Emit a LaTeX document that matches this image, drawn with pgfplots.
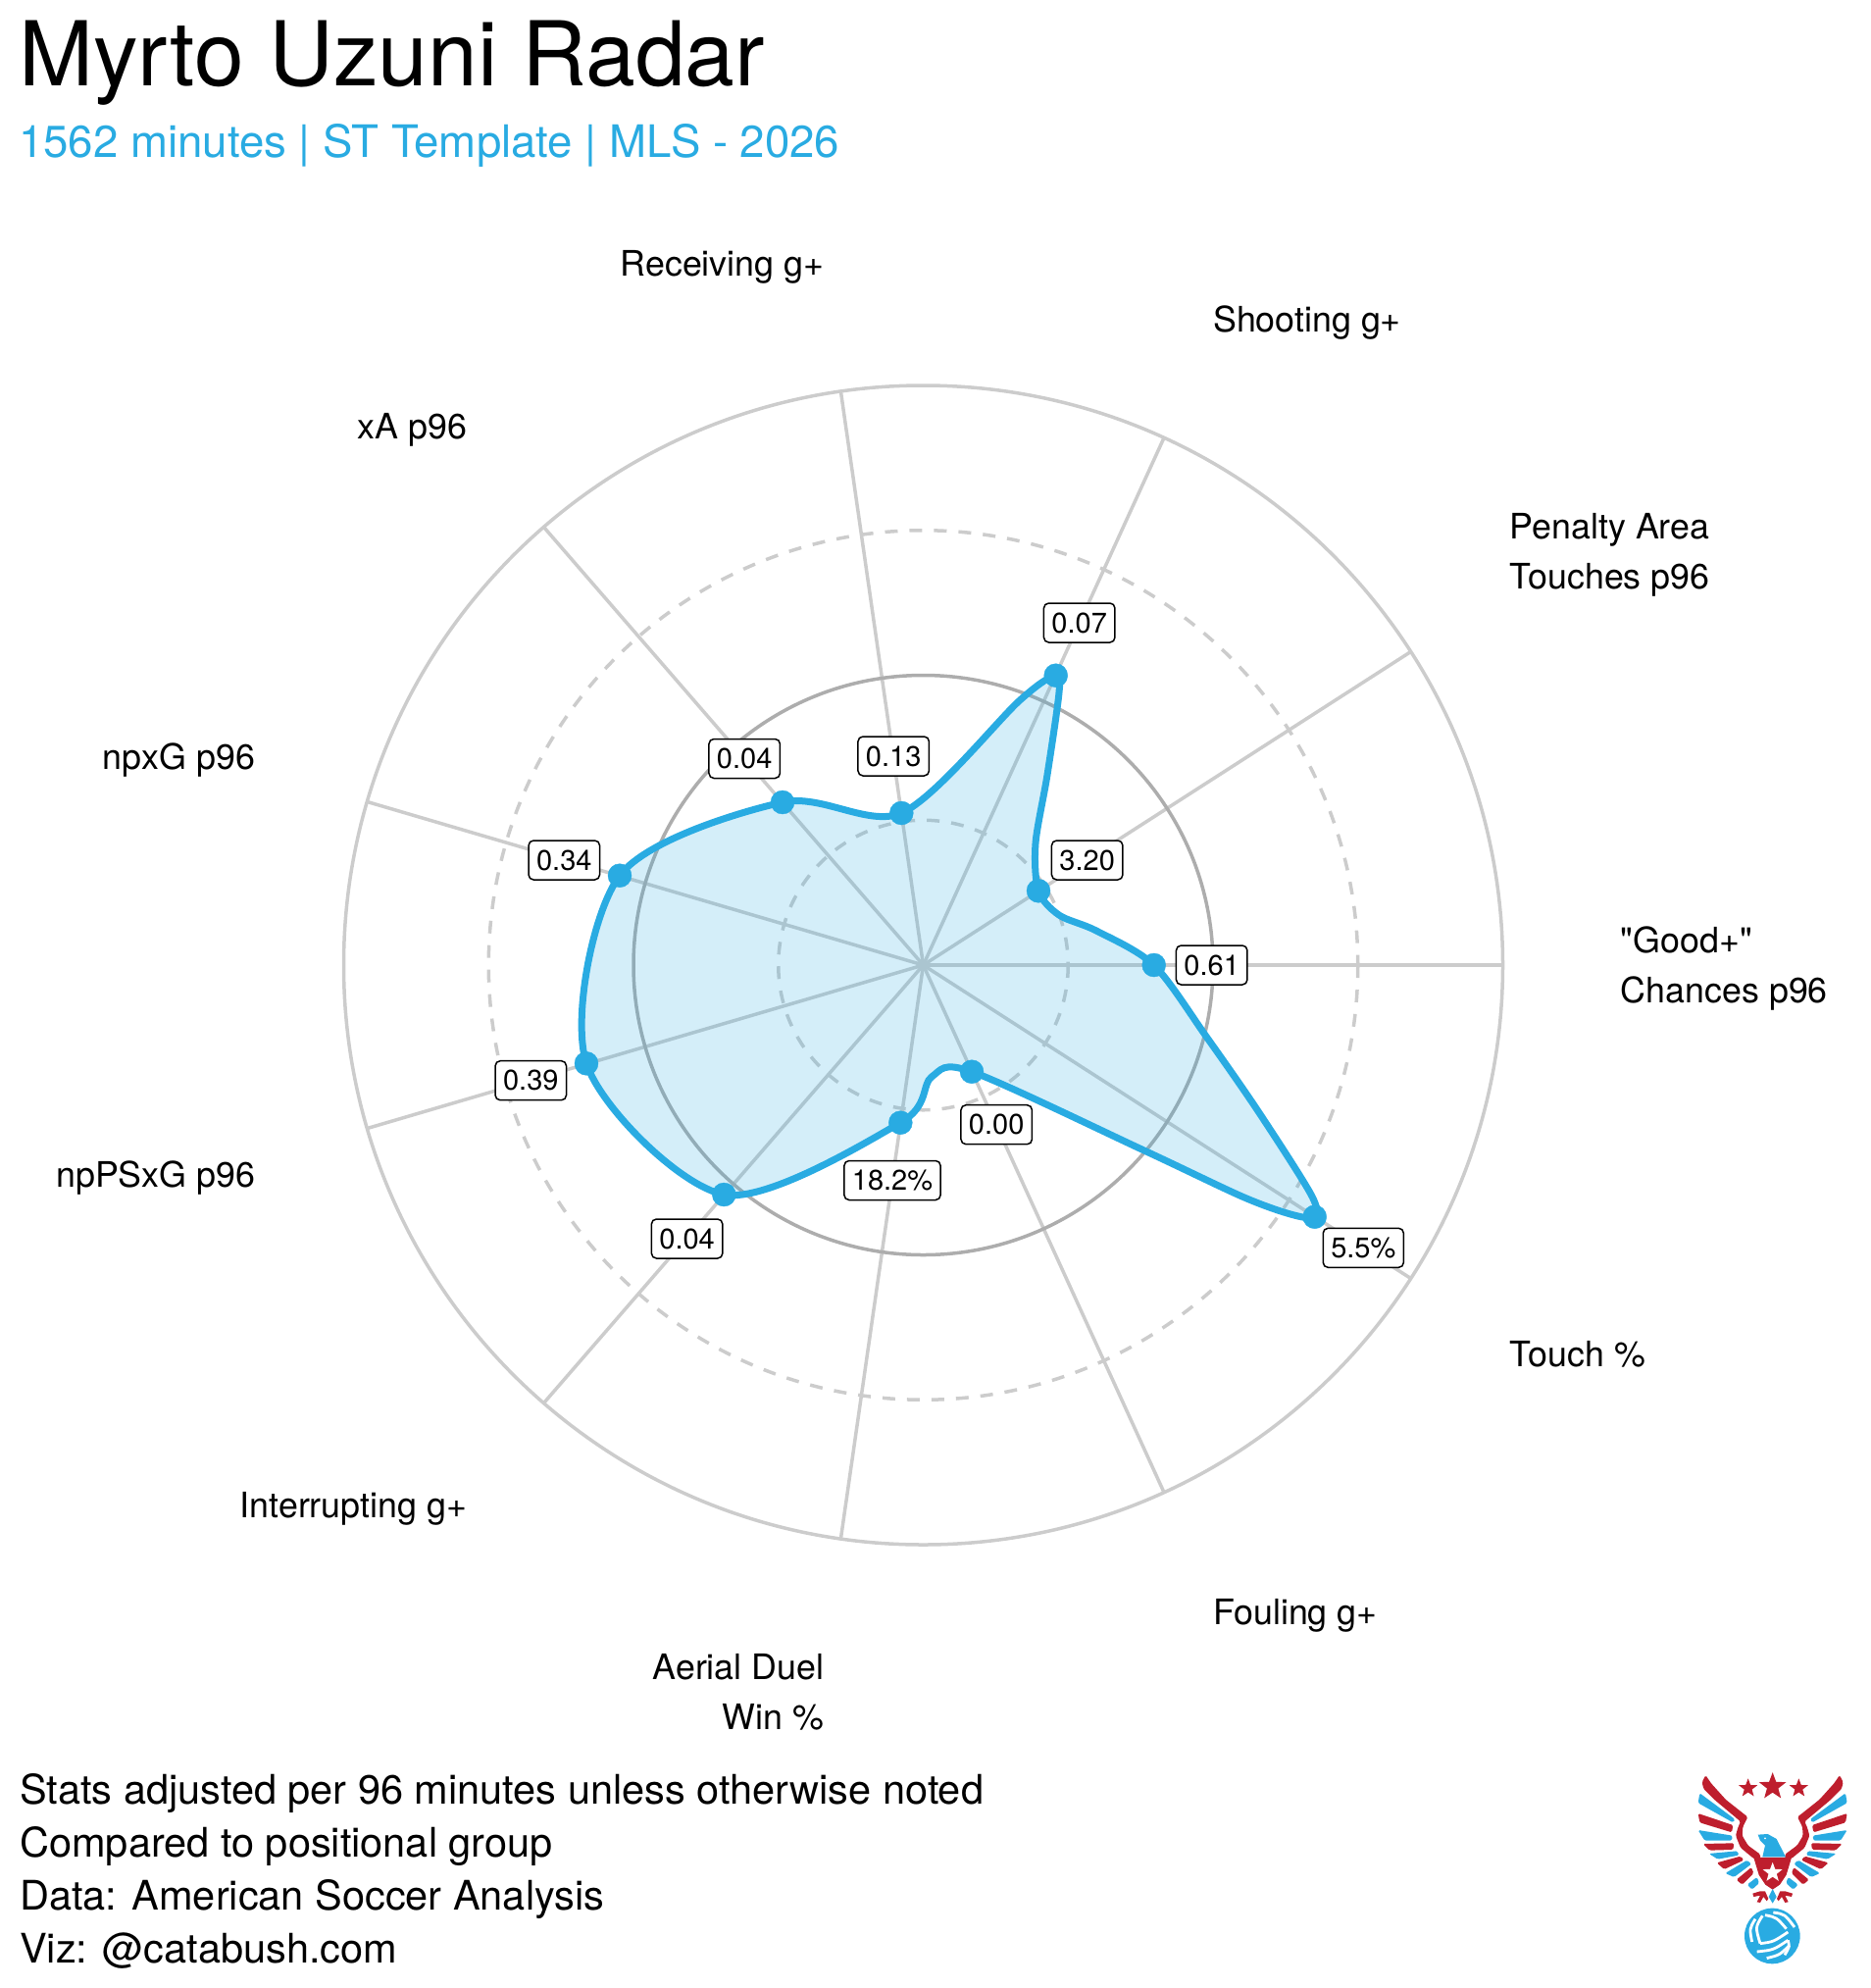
\documentclass[border=0pt]{standalone}
\usepackage{fontspec}
\setmainfont{TeX Gyre Heros}
\newfontfamily\plainf{TeX Gyre Heros}
\usepackage{pgfplots}
\pgfplotsset{compat=1.18}
\usetikzlibrary{shapes.geometric}
\definecolor{radar}{HTML}{29ABE2}
\definecolor{logored}{HTML}{BE1E2D}
\definecolor{gridl}{HTML}{CCCCCC}
\definecolor{gridd}{HTML}{ADADAD}
\tikzset{
 val/.style={draw=black,fill=white,line width=1.5pt,rounded corners=5pt,inner xsep=8pt,inner ysep=0pt,
   minimum height=40pt,font=\fontsize{29pt}{32pt}\selectfont,text height=20.5pt,text depth=0pt},
 cat/.style={inner sep=0pt,font=\fontsize{35.8pt}{40pt}\selectfont}
}
\newcommand\halfwing{%
 \fill[logored,rounded corners=1.5pt] (178,90)--(167,112)--(172,132)--(205,165)--(285,232)--(277,250)--(270,275)--(285,312)--(325,345)--(345,350)--(345,332)--(308,305)--(290,275)--(292,248)--(307,218)--(240,165)--(195,115)--cycle;
 \fill[radar,rounded corners=1.5pt] (160,145)--(268,225)--(262,235)--(155,175)--cycle;
 \fill[logored,rounded corners=1.5pt] (155,207)--(262,243)--(258,265)--(160,235)--cycle;
 \fill[radar,rounded corners=1.5pt] (155,258)--(260,275)--(258,290)--(175,290)--cycle;
 \fill[logored,rounded corners=1.5pt] (170,300)--(265,298)--(262,318)--(190,320)--cycle;
 \fill[radar,rounded corners=1.5pt] (188,330)--(275,322)--(280,335)--(215,347)--cycle;
 \fill[logored,rounded corners=1.5pt] (212,358)--(285,338)--(295,350)--(235,378)--cycle;
 \fill[radar,rounded corners=1.5pt] (238,390)--(305,350)--(318,362)--(265,402)--cycle;
 \fill[logored,rounded corners=1.5pt] (272,410)--(318,372)--(325,390)--(290,425)--cycle;
 \fill[radar,rounded corners=1.5pt] (305,425)--(335,402)--(342,420)--(320,440)--cycle;
 \fill[logored] (345,445)--(322,452)--(325,462)--(345,458)--(335,478)--(345,480)--(355,462)--(365,475)--(370,468)--(360,445)--cycle;
}
\begin{document}
\begin{tikzpicture}
\path[use as bounding box] (0,0) rectangle (1908pt,2027pt);
\begin{axis}[
  at={(0,0)},anchor=south west,
  scale only axis,width=1908pt,height=2027pt,
  xmin=0,xmax=1908,ymin=0,ymax=2027,y dir=reverse,
  hide axis,clip=false]

% spokes
\addplot[gridl,line width=3.5pt] coordinates {(941.5,984) (1532.5,984)};
\addplot[gridl,line width=3.5pt] coordinates {(941.5,984) (1438.7,664.5)};
\addplot[gridl,line width=3.5pt] coordinates {(941.5,984) (1187,446.4)};
\addplot[gridl,line width=3.5pt] coordinates {(941.5,984) (857.4,399)};
\addplot[gridl,line width=3.5pt] coordinates {(941.5,984) (554.5,537.4)};
\addplot[gridl,line width=3.5pt] coordinates {(941.5,984) (374.5,817.5)};
\addplot[gridl,line width=3.5pt] coordinates {(941.5,984) (374.5,1150.5)};
\addplot[gridl,line width=3.5pt] coordinates {(941.5,984) (554.5,1430.6)};
\addplot[gridl,line width=3.5pt] coordinates {(941.5,984) (857.4,1569)};
\addplot[gridl,line width=3.5pt] coordinates {(941.5,984) (1187,1521.6)};
\addplot[gridl,line width=3.5pt] coordinates {(941.5,984) (1438.7,1303.5)};

% rings
\draw[gridl,line width=3.5pt,dash pattern=on 13pt off 12pt] (axis cs:941.5,984) circle[radius=147.75];
\draw[gridd,line width=3.5pt] (axis cs:941.5,984) circle[radius=295.5];
\draw[gridl,line width=3.5pt,dash pattern=on 13pt off 12pt] (axis cs:941.5,984) circle[radius=443.25];
\draw[gridl,line width=3.5pt] (axis cs:941.5,984) circle[radius=591];

% radar outline: the eleven values, plus a few points read off the curve near its sharp tips
\addplot[radar,line width=7pt,fill=radar,fill opacity=0.2,draw opacity=1,smooth cycle,tension=0.5] coordinates {
 (1176.7,984) (1118,949) (1080,933) (1059,908.3) (1056,860) (1068,790) (1080,706) (1076.7,688.7) (1040,714)
 (919.3,829) (798,818) (632,892.7)
 (598,1084.3) (738.3,1218) (918.3,1144.7) (950,1098) (991,1092.7)
 (1166.7,1173) (1266.7,1220) (1316,1238) (1340.7,1240.7) (1337,1218) (1283,1133) (1230,1056.7)};
\addplot[only marks,mark=*,mark size=12pt,radar,mark options={draw=none,fill=radar}] coordinates {
 (1176.7,984) (1059,908.3) (1076.7,688.7) (919.3,829) (798,818) (632,892.7)
 (598,1084.3) (738.3,1218) (918.3,1144.7) (991,1092.7) (1340.7,1240.7)};

% values
\node[val] at (axis cs:1235.7,984) {0.61};
\node[val] at (axis cs:1108.7,877) {3.20};
\node[val] at (axis cs:1100.7,635) {0.07};
\node[val] at (axis cs:911.2,771) {0.13};
\node[val] at (axis cs:759.2,773.5) {0.04};
\node[val] at (axis cs:575.3,877) {0.34};
\node[val] at (axis cs:541.3,1101.7) {0.39};
\node[val] at (axis cs:700.6,1263) {0.04};
\node[val] at (axis cs:910,1203.5) {18.2\%};
\node[val] at (axis cs:1016.2,1146.7) {0.00};
\node[val] at (axis cs:1390.3,1272.3) {5.5\%};

% category labels
\node[cat,anchor=base east] at (axis cs:840.5,281.8) {Receiving g+};
\node[cat,anchor=base west] at (axis cs:1237,338.7) {Shooting g+};
\node[cat,anchor=base west] at (axis cs:1539.6,549.3) {Penalty Area};
\node[cat,anchor=base west] at (axis cs:1539.6,600.3) {Touches p96};
\node[cat,anchor=base west] at (axis cs:1652.7,971.5) {\plainf "Good+"};
\node[cat,anchor=base west] at (axis cs:1652.7,1022.5) {Chances p96};
\node[cat,anchor=base west] at (axis cs:1539.6,1393.3) {Touch \%};
\node[cat,anchor=base west] at (axis cs:1237,1656) {Fouling g+};
\node[cat,anchor=base east] at (axis cs:840.5,1712.8) {Aerial Duel};
\node[cat,anchor=base east] at (axis cs:840.5,1763.8) {Win \%};
\node[cat,anchor=base east] at (axis cs:476.2,1547.3) {Interrupting g+};
\node[cat,anchor=base east] at (axis cs:260.5,1210) {npPSxG p96};
\node[cat,anchor=base east] at (axis cs:260.5,784.7) {npxG p96};
\node[cat,anchor=base east] at (axis cs:476.2,447.3) {xA p96};

% titles
\node[anchor=base west,inner sep=0pt,font=\fontsize{91.2pt}{95pt}\selectfont] at (axis cs:19,87.5) {Myrto Uzuni Radar};
\node[anchor=base west,inner sep=0pt,text=radar,font=\fontsize{45.6pt}{50pt}\selectfont] at (axis cs:19,160) {1562 minutes | ST Template | MLS - 2026};
\node[anchor=base west,inner sep=0pt,font=\fontsize{41.5pt}{45pt}\selectfont] at (axis cs:20,1839) {Stats adjusted per 96 minutes unless otherwise noted};
\node[anchor=base west,inner sep=0pt,font=\fontsize{41.5pt}{45pt}\selectfont] at (axis cs:20,1893) {Compared to positional group};
\node[anchor=base west,inner sep=0pt,font=\fontsize{41.5pt}{45pt}\selectfont] at (axis cs:20,1947.5) {Data: American Soccer Analysis};
\node[anchor=base west,inner sep=0pt,font=\fontsize{41.5pt}{45pt}\selectfont] at (axis cs:20,2001) {Viz: @catabush.com};
\end{axis}

% logo
\begin{scope}[shift={(1680pt,247pt)},x=0.3333pt,y=-0.3333pt]
 \halfwing
 \begin{scope}[shift={(766,0)},xscale=-1]
  \halfwing
 \end{scope}
 \fill[logored] (325,342)--(441,342)--(425,395)--(405,425)--(383,440)--(361,425)--(341,395)--cycle;
 \fill[radar] (338,272)--(368,270)--(395,285)--(423,340)--(352,340)--(360,305)--(345,290)--cycle;
 \fill[white] (360,283) circle[radius=3];
 \fill[radar] (383,438)--(395,462)--(383,482)--(371,462)--cycle;
 \node[star,star points=5,star point ratio=2.4,fill=logored,inner sep=0pt,minimum size=29pt] at (383,125) {};
 \node[star,star points=5,star point ratio=2.4,fill=logored,inner sep=0pt,minimum size=20pt] at (308,130) {};
 \node[star,star points=5,star point ratio=2.4,fill=logored,inner sep=0pt,minimum size=20pt] at (463,130) {};
 \node[star,star points=5,star point ratio=2.4,fill=white,inner sep=0pt,minimum size=21pt] at (383,388) {};
 \fill[radar] (382,582) circle[radius=85];
 \begin{scope}[white,line width=2.8pt]
  \draw (352,520) .. controls (330,555) .. (345,605);
  \draw (330,530) .. controls (312,560) .. (320,600);
  \draw (360,518) .. controls (395,525) .. (425,560);
  \draw (385,510) .. controls (420,515) .. (450,555);
  \draw (345,605) .. controls (385,600) .. (430,570);
  \draw (335,630) .. controls (385,625) .. (430,595);
  \draw (430,595) .. controls (435,615) .. (420,640);
  \draw (365,650) .. controls (405,640) .. (435,610);
 \end{scope}
\end{scope}
\end{tikzpicture}
\end{document}
